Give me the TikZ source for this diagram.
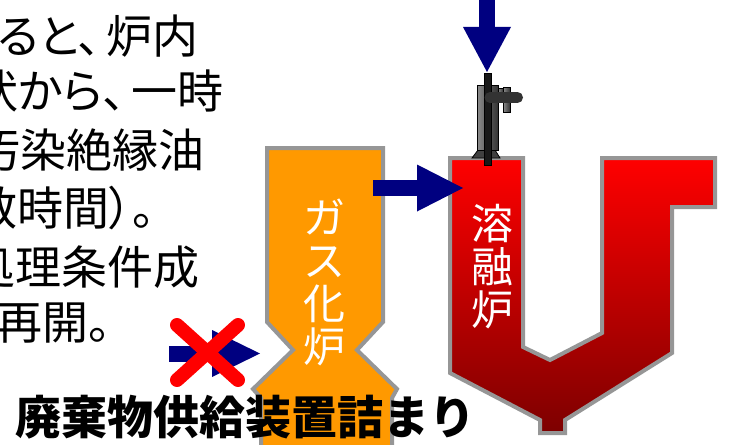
\documentclass[tikz,border=0pt]{standalone}
\usepackage{fontspec}
\usetikzlibrary{calc}
\newfontfamily\jp[RawFeature=+palt]{Noto Sans CJK JP}
\newfontfamily\jpfull{Noto Sans CJK JP}
\definecolor{arrowblue}{RGB}{0,0,128}
\definecolor{furnaceorange}{RGB}{255,153,0}
\definecolor{wallgray}{RGB}{150,150,150}
\definecolor{meltdark}{RGB}{125,0,0}
\definecolor{meltred}{RGB}{255,0,0}
\newcommand{\commagap}{\kern6pt}
\begin{document}
\begin{tikzpicture}[x=1pt,y=-1pt,
  wall/.style={draw=wallgray, line width=4pt, line join=miter},
  bodytext/.style={font=\jp\fontsize{46}{46}\selectfont, inner sep=0pt},
  furnacelabel/.style={text=white, inner sep=0pt, align=center,
    font=\jpfull\fontsize{42}{43}\selectfont},
  shaft/.style={draw=arrowblue, line width=16pt},
  arrowhead/.style={fill=arrowblue},
  burnerpart/.style={draw=black, line width=0.8pt},
]
\useasboundingbox (0,0) rectangle (730,444);
\clip (0,0) rectangle (730,444);

% explanatory text, cut off by the left edge
\node[bodytext, anchor=base east] (t1) at (199,53.5) {ると、\commagap 炉内};
\node[bodytext, anchor=base east] (t2) at (224,108.5) {状から、\commagap 一時};
\node[bodytext, anchor=base east] (t3) at (205,167.5) {汚染絶縁油};
\node[bodytext, anchor=base west] (t4) at (-29,225.5) {数時間）。};
\node[bodytext, anchor=base east] (t5) at (200,284.5) {処理条件成};
\node[bodytext, anchor=base west] (t6) at (-4,339.5) {再開。};

% gasification furnace
\draw[wall, fill=furnaceorange]
  (267,148) -- (383,148) -- (383,322) -- (357,350) -- (397,389) -- (392,398)
  -- (392,460) -- (261,460) -- (261,398) -- (253,389) -- (293,350) -- (267,322)
  -- cycle;
\node[furnacelabel] (gas) at (324,282) {ガ\\ス\\化\\炉};

% melting furnace
\draw[wall, top color=meltred, bottom color=meltdark]
  (450,158) -- (523,158) -- (523,347) -- (550,360) -- (602,333) -- (602,158)
  -- (715,158) -- (715,207) -- (672,207) -- (672,353) -- (565,420) -- (565,433)
  -- (540,433) -- (540,420) -- (450,373) -- cycle;
\node[furnacelabel] (melt) at (492,267) {溶\\融\\炉};

% burner on top of the melting furnace
\draw[burnerpart, fill=black!75] (472,158) -- (478,150) -- (495,150) -- (500,158) -- cycle;
\draw[burnerpart, left color=black!45, right color=black!80] (477,85) rectangle (498,150);
\draw[burnerpart, left color=black!45, right color=black!80] (498,88) rectangle (503,100);
\draw[burnerpart, left color=black!45, right color=black!80] (503,87) rectangle (510,112);
\draw[burnerpart, fill=black!90] (484.5,73) rectangle (491.5,165);
\draw[black!80, line width=11pt, line cap=round] (490,97.5) -- (517.5,97.5);

% feed arrows
\coordinate (topFeedStart) at (487,-5);
\coordinate (topFeedTip) at (487,72);
\draw[shaft] (topFeedStart) -- ($(topFeedTip)+(0,-45)$);
\fill[arrowhead] ($(topFeedTip)+(-24,-45)$) -- (topFeedTip) -- ($(topFeedTip)+(24,-45)$) -- cycle;

\coordinate (gasFeedStart) at (373,188);
\coordinate (gasFeedTip) at (463,188);
\draw[shaft] (gasFeedStart) -- ($(gasFeedTip)+(-46,0)$);
\fill[arrowhead] ($(gasFeedTip)+(-46,-23.5)$) -- (gasFeedTip) -- ($(gasFeedTip)+(-46,23.5)$) -- cycle;

\coordinate (wasteFeedStart) at (169,353.5);
\coordinate (wasteFeedTip) at (260,353.5);
\draw[shaft] (wasteFeedStart) -- ($(wasteFeedTip)+(-48,0)$);
\fill[arrowhead] ($(wasteFeedTip)+(-48,-23.5)$) -- (wasteFeedTip) -- ($(wasteFeedTip)+(-48,23.5)$) -- cycle;

% blocked supply mark
\coordinate (xa) at (177,325);
\coordinate (xb) at (238,380);
\coordinate (xc) at (238,325);
\coordinate (xd) at (177,380);
\draw[red, line width=14pt, line cap=round] (xa) -- (xb) (xc) -- (xd);

% caption
\node[inner sep=0pt, anchor=base west, font=\jpfull\bfseries\fontsize{46}{46}\selectfont]
  (caption) at (15,434.5) {廃棄物供給装置詰まり};
\end{tikzpicture}
\end{document}
